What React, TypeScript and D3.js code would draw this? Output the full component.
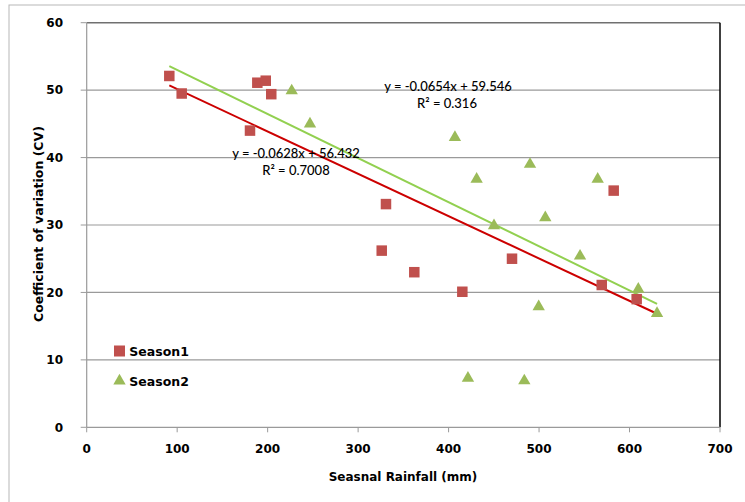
import React from "react";
import * as d3 from "d3";

const season1X = [91.3, 105.0, 180.5, 188.6, 197.9, 204.0, 330.8, 326.1, 362.1, 415.2, 470.1, 569.3, 582.5, 607.9];
const season1Y = [52.1, 49.5, 44.0, 51.1, 51.4, 49.4, 33.1, 26.2, 23.0, 20.1, 25.0, 21.1, 35.1, 19.0];
const season2X = [226.6, 246.8, 407.0, 431.0, 490.0, 564.8, 506.9, 450.2, 545.3, 609.7, 499.6, 630.4, 483.7, 421.4];
const season2Y = [49.9, 45.0, 43.0, 36.8, 39.0, 36.8, 31.1, 29.9, 25.4, 20.5, 17.9, 16.9, 6.9, 7.3];
const trend1 = { slope: -0.0628, intercept: 56.432, label: "y = -0.0628x + 56.432", r2: "R² = 0.7008" };
const trend2 = { slope: -0.0654, intercept: 59.546, label: "y = -0.0654x + 59.546", r2: "R² = 0.316" };
const trendRange = [91.3, 630.4];
const xTicks = [0, 100, 200, 300, 400, 500, 600, 700];
const yTicks = [0, 10, 20, 30, 40, 50, 60];
const seriesNames = ["Season1", "Season2"];

const C1 = "#C0504D";
const C2 = "#9BBB59";
const L1 = "#CC0000";
const L2 = "#92D050";
const FONT = "'DejaVu Sans', sans-serif";
const EQFONT = "Lato, 'Open Sans', sans-serif";

export default function App() {
  const x = d3.scaleLinear().domain([0, 700]).range([86.7, 720]);
  const y = d3.scaleLinear().domain([0, 60]).range([427.3, 22.7]);
  const tri = d3.symbol().type(d3.symbolTriangle).size(66)() as string;
  const sq = 10.5;
  const t1 = d3.line<number>().x((v) => x(v)).y((v) => y(trend1.slope * v + trend1.intercept))(trendRange) as string;
  const t2 = d3.line<number>().x((v) => x(v)).y((v) => y(trend2.slope * v + trend2.intercept))(trendRange) as string;
  return (
    <svg width={745} height={502} style={{ position: "absolute", left: 0, top: 0, background: "#fff" }}>
      <rect x={9} y={5} width={760} height={520} fill="#fff" stroke="#b8b8b8" strokeWidth={1} />
      {yTicks.filter((t) => t > 0 && t < 60).map((t) => (
        <line key={t} x1={x(0)} x2={x(700)} y1={y(t)} y2={y(t)} stroke="#9a9a9a" strokeWidth={1.2} />
      ))}
      <line x1={x(0)} x2={x(700)} y1={y(60)} y2={y(60)} stroke="#707070" strokeWidth={1.5} />
      <line x1={x(700)} x2={x(700)} y1={y(60)} y2={y(0)} stroke="#000" strokeWidth={1.5} />
      <line x1={x(0)} x2={x(0)} y1={y(60)} y2={y(0)} stroke="#9a9a9a" strokeWidth={1.2} />
      <line x1={x(0)} x2={x(700)} y1={y(0)} y2={y(0)} stroke="#9a9a9a" strokeWidth={1.2} />
      {yTicks.map((t) => (
        <g key={t}>
          <line x1={x(0) - 6} x2={x(0)} y1={y(t)} y2={y(t)} stroke="#9a9a9a" strokeWidth={1} />
          <text x={63} y={y(t)} dy="0.36em" textAnchor="end" fontFamily={FONT} fontWeight="bold" fontSize={12} fill="#000">{t}</text>
        </g>
      ))}
      {xTicks.map((t) => (
        <g key={t}>
          <line x1={x(t)} x2={x(t)} y1={y(0)} y2={y(0) + 5} stroke="#9a9a9a" strokeWidth={1} />
          <text x={x(t)} y={449} dy="0.36em" textAnchor="middle" fontFamily={FONT} fontWeight="bold" fontSize={12} fill="#000">{t}</text>
        </g>
      ))}
      <text x={403} y={481} textAnchor="middle" fontFamily={FONT} fontWeight="bold" fontSize={12} fill="#000">Seasnal Rainfall (mm)</text>
      <text transform="translate(42.5,224) rotate(-90)" textAnchor="middle" fontFamily={FONT} fontWeight="bold" fontSize={12.5} fill="#000">Coefficient of variation (CV)</text>
      <path d={t2} stroke={L2} strokeWidth={2} fill="none" />
      <path d={t1} stroke={L1} strokeWidth={2} fill="none" />
      {season1X.map((v, i) => (
        <rect key={"s" + i} x={x(v) - sq / 2} y={y(season1Y[i]) - sq / 2} width={sq} height={sq} fill={C1} />
      ))}
      {season2X.map((v, i) => (
        <path key={"t" + i} d={tri} transform={`translate(${x(v)},${y(season2Y[i])})`} fill={C2} />
      ))}
      <text x={448} y={90.5} textAnchor="middle" fontFamily={EQFONT} fontWeight={500} fontSize={13} fill="#000">{trend2.label}</text>
      <text x={447} y={107.5} textAnchor="middle" fontFamily={EQFONT} fontWeight={500} fontSize={13} fill="#000">{trend2.r2}</text>
      <text x={296} y={157.5} textAnchor="middle" fontFamily={EQFONT} fontWeight={500} fontSize={13} fill="#000">{trend1.label}</text>
      <text x={296} y={174.5} textAnchor="middle" fontFamily={EQFONT} fontWeight={500} fontSize={13} fill="#000">{trend1.r2}</text>
      <rect x={114} y={345.5} width={11} height={11} fill={C1} />
      <text x={129.3} y={355.7} fontFamily={FONT} fontWeight="bold" fontSize={12.5} fill="#000">{seriesNames[0]}</text>
      <path d={tri} transform="translate(119.5,381)" fill={C2} />
      <text x={129.3} y={385.7} fontFamily={FONT} fontWeight="bold" fontSize={12.5} fill="#000">{seriesNames[1]}</text>
    </svg>
  );
}
